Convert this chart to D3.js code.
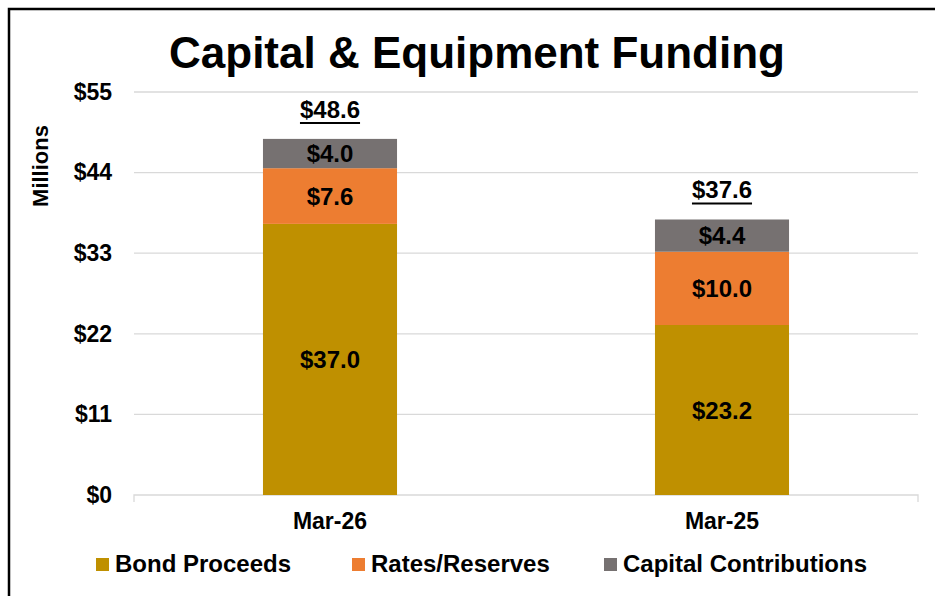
<!DOCTYPE html>
<html><head><meta charset="utf-8">
<script src="https://cdn.jsdelivr.net/npm/d3@7"></script>
<style>body{margin:0;background:#fff;}svg{display:block;font-family:"Liberation Sans",Arial,sans-serif;}</style>
</head><body>
<svg id="c" width="935" height="596"></svg>
<script>
const categories = ["Mar-26", "Mar-25"];
const seriesNames = ["Bond Proceeds", "Rates/Reserves", "Capital Contributions"];
const bondProceeds = [37.0, 23.2];
const ratesReserves = [7.6, 10.0];
const capitalContributions = [4.0, 4.4];
const totals = [48.6, 37.6];
const yTicks = [0, 11, 22, 33, 44, 55];
const colors = ["#BF9000", "#ED7D31", "#767171"];

(function () {
const svg = d3.select("#c");
const FF = "Liberation Sans, Arial, sans-serif";
// outer border
svg.append("rect").attr("x", 9).attr("y", 9).attr("width", 940).attr("height", 600)
  .attr("fill", "none").attr("stroke", "#000").attr("stroke-width", 2.5);

const pL = 134, pR = 918, pT = 92, pB = 495;
const x = d3.scaleBand().domain(categories).range([pL, pR]).padding(0);
const y = d3.scaleLinear().domain([0, 55]).range([pB, pT]);
const barW = x.bandwidth() * 0.342;

// gridlines
svg.append("g").selectAll("line").data(yTicks.filter(d => d > 0)).join("line")
  .attr("x1", pL).attr("x2", pR).attr("y1", d => y(d)).attr("y2", d => y(d))
  .attr("stroke", "#d9d9d9").attr("stroke-width", 1.3);

// y axis labels
const yAxis = d3.axisLeft(y).tickValues(yTicks).tickFormat(d => "$" + d).tickSize(0).tickPadding(22);
const ya = svg.append("g").attr("transform", `translate(${pL},0)`).call(yAxis)
  .attr("font-size", 23).attr("font-family", FF);
ya.select(".domain").remove();
ya.selectAll("text").attr("font-weight", "bold").attr("fill", "#000");

// x axis
const xAxis = d3.axisBottom(x).tickSize(0).tickPadding(18);
const xa = svg.append("g").attr("transform", `translate(0,${pB})`).call(xAxis)
  .attr("font-size", 23).attr("font-family", FF);
xa.select(".domain").remove();
xa.selectAll("text").attr("font-weight", "bold").attr("fill", "#000");
svg.append("path").attr("d", `M${pL},${pB + 7}V${pB}H${pR}V${pB + 7}`)
  .attr("fill", "none").attr("stroke", "#d9d9d9").attr("stroke-width", 1.3);

// stacked data
const rows = categories.map((c, i) => ({cat: c, "Bond Proceeds": bondProceeds[i], "Rates/Reserves": ratesReserves[i], "Capital Contributions": capitalContributions[i]}));
const stack = d3.stack().keys(seriesNames)(rows);

stack.forEach((layer, li) => {
  const g = svg.append("g");
  g.selectAll("rect").data(layer).join("rect")
    .attr("x", d => x(d.data.cat) + (x.bandwidth() - barW) / 2)
    .attr("width", barW)
    .attr("y", d => y(d[1]))
    .attr("height", d => y(d[0]) - y(d[1]))
    .attr("fill", colors[li]);
  g.selectAll("text").data(layer).join("text")
    .attr("x", d => x(d.data.cat) + x.bandwidth() / 2)
    .attr("y", d => (y(d[0]) + y(d[1])) / 2)
    .attr("dy", "0.36em")
    .attr("text-anchor", "middle")
    .attr("font-size", 24).attr("font-weight", "bold").attr("fill", "#000")
    .text(d => "$" + (d[1] - d[0]).toFixed(1));
});

// totals
const tg = svg.append("g");
categories.forEach((c, i) => {
  const cx = x(c) + x.bandwidth() / 2;
  const ty = y(totals[i]) - 21;
  const t = tg.append("text").attr("x", cx).attr("y", ty).attr("text-anchor", "middle")
    .attr("font-size", 24).attr("font-weight", "bold").attr("fill", "#000")
    .text("$" + totals[i].toFixed(1));
  const bb = t.node().getBBox();
  tg.append("line").attr("x1", bb.x).attr("x2", bb.x + bb.width)
    .attr("y1", ty + 5).attr("y2", ty + 5).attr("stroke", "#000").attr("stroke-width", 2);
});

// title
svg.append("text").attr("x", 477).attr("y", 68).attr("text-anchor", "middle")
  .attr("font-size", 44).attr("font-weight", "bold").attr("fill", "#000")
  .text("Capital & Equipment Funding");

// y title
svg.append("text").attr("transform", "translate(48,166) rotate(-90)").attr("text-anchor", "middle")
  .attr("font-size", 22).attr("font-weight", "bold").attr("fill", "#000").text("Millions");

// legend
const legX = [96, 352, 604];
const lg = svg.append("g");
seriesNames.forEach((s, i) => {
  lg.append("rect").attr("x", legX[i]).attr("y", 558).attr("width", 13).attr("height", 13).attr("fill", colors[i]);
  lg.append("text").attr("x", legX[i] + 19).attr("y", 572).attr("font-size", 24)
    .attr("font-weight", "bold").attr("fill", "#000").text(s);
});
})();
</script>
</body></html>
